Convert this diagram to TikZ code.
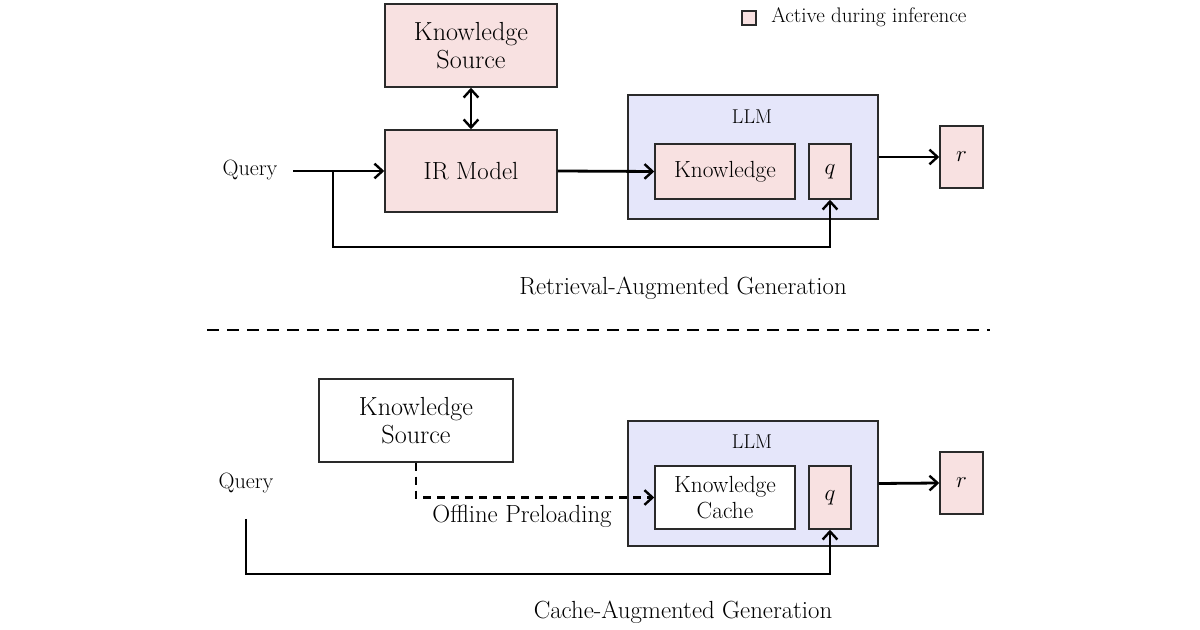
\documentclass[tikz,border=0pt]{standalone}
\usetikzlibrary{arrows.meta}
\definecolor{actpink}{HTML}{F8E1E1}
\definecolor{llmblue}{HTML}{E5E6FA}
\definecolor{edge}{HTML}{2A2A2A}
\begin{document}
\begin{tikzpicture}[x=0.75pt, y=-0.75pt,
  font=\fontsize{18.6}{20.5}\selectfont,
  sz/.style 2 args={minimum width=#1*0.75pt, minimum height=#2*0.75pt},
  box/.style={draw=edge, line width=1.1pt, inner sep=0pt, align=center},
  act/.style={box, fill=actpink},
  plain/.style={box, fill=white},
  llm/.style={box, fill=llmblue},
  bigtxt/.style={font=\fontsize{19.6}{20.5}\selectfont},
  midtxt/.style={font=\fontsize{17.5}{20}\selectfont},
  qtxt/.style={font=\fontsize{16.6}{20}\selectfont},
  smalltxt/.style={font=\fontsize{15}{18}\selectfont},
  legtxt/.style={font=\fontsize{15.8}{18}\selectfont},
  arr/.style={line width=2.1pt, -{Straight Barb[length=6pt,width=11pt,line width=1.8pt]}},
  darr/.style={line width=2.1pt, {Straight Barb[length=6pt,width=11pt,line width=1.8pt]}-{Straight Barb[length=6pt,width=11pt,line width=1.8pt]}}]
\useasboundingbox (0,0) rectangle (1200,630);

% legend
\node[act, sz={14}{14}] (leg) at (749,18) {};
\node[legtxt, anchor=west, inner sep=0pt] (legt) at (771,17.5) {Active during inference};

% ---------- RAG ----------
\node[act, bigtxt, sz={172}{83}] (ks1) at (471,45.5) {Knowledge\\Source};
\node[act, sz={172}{82}] (ir) at (471,171) {IR Model};
\node[qtxt] (q1lab) at (250,170) {Query};
\node[llm, sz={250}{124}] (llm1) at (753,157) {};
\node[smalltxt] (llmt1) at (752,117) {LLM};
\node[act, midtxt, sz={140}{55}] (kn1) at (725,171.5) {Knowledge};
\node[act, sz={42}{55}] (q1) at (830,171.5) {$q$};
\node[act, sz={43}{62}] (r1) at (961.5,157) {$r$};
\node (cap1) at (683,288) {Retrieval-Augmented Generation};

\coordinate (qs1) at (293,171);
\coordinate (b1) at (333,171);
\coordinate (c1) at (333,247);
\draw[darr] (ks1.south) -- (ir.north);
\draw[arr] (qs1) -- (ir.west);
\draw[arr] (b1) -- (c1) -| (q1.south);
\draw[arr] (ir.east) -- (kn1.west);
\draw[arr] (llm1.east) -- (r1.west);

% separator
\coordinate (s1) at (207,330);
\coordinate (s2) at (990,330);
\draw[line width=2pt, dash pattern=on 9pt off 6pt] (s1) -- (s2);

% ---------- CAG ----------
\node[plain, bigtxt, sz={194}{83}] (ks2) at (416,420.5) {Knowledge\\Source};
\node[qtxt] (q2lab) at (246,483) {Query};
\node[llm, sz={250}{125}] (llm2) at (753,483.5) {};
\node[smalltxt] (llmt2) at (752,442) {LLM};
\node[plain, midtxt, sz={140}{63}] (kc) at (725,497.5) {Knowledge\\Cache};
\node[act, sz={42}{63}] (q2) at (830,497.5) {$q$};
\node[act, sz={43}{62}] (r2) at (961.5,483) {$r$};
\node (off) at (522,516) {Offline Preloading};
\node (cap2) at (683,612) {Cache-Augmented Generation};

\coordinate (d1) at (416,497.5);
\draw[arr, line width=1.8pt, dash pattern=on 6pt off 4.5pt] (ks2.south) -- (d1) -- (kc.west);
\coordinate (qs2) at (246,519);
\coordinate (c2) at (246,574);
\draw[arr] (qs2) -- (c2) -| (q2.south);
\draw[arr] (llm2.east) -- (r2.west);
\end{tikzpicture}
\end{document}
